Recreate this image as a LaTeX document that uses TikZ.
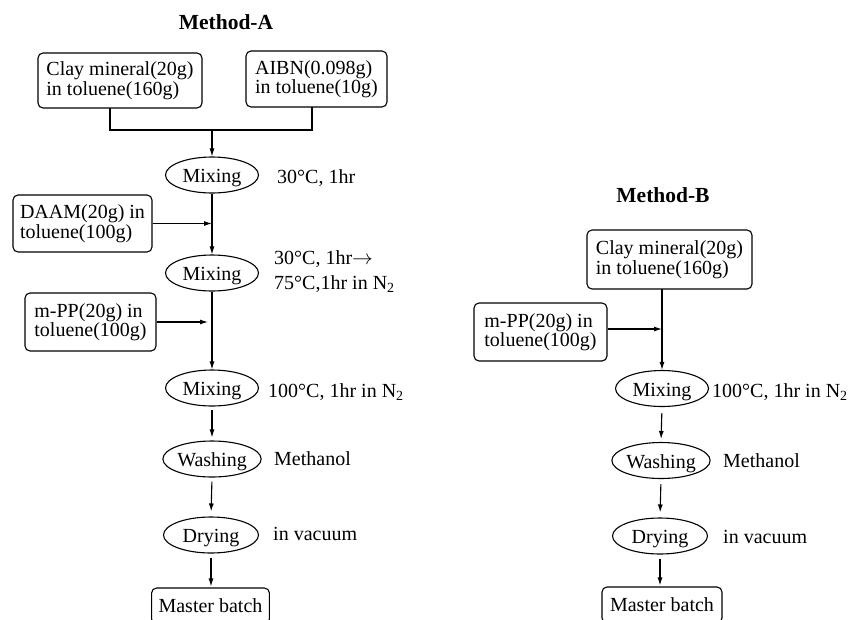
\documentclass[tikz,border=0pt]{standalone}
\usepackage{fontspec}
\setmainfont{Liberation Serif}
\usetikzlibrary{shapes.geometric,arrows.meta}
\tikzset{
  box/.style={draw, rounded corners=5pt, line width=1.1pt, align=left, inner xsep=7pt, inner ysep=0pt, font=\fontsize{20}{19.5}\selectfont},
  oval/.style={draw, ellipse, line width=1.1pt, inner sep=0pt, minimum width=93pt, minimum height=36pt, text height=15pt, text depth=0pt, font=\fontsize{20}{20}\selectfont},
  lbl/.style={anchor=base west, inner sep=0pt, font=\fontsize{20}{20}\selectfont},
  ttl/.style={inner sep=0pt, font=\fontsize{21.5}{21.5}\selectfont\bfseries},
  ln/.style={line width=1.1pt},
  arr/.style={line width=1.1pt, -{Latex[length=8pt,width=5pt]}}
}
\begin{document}
\begin{tikzpicture}[x=1pt,y=-1pt]
\clip (0,0) rectangle (859,619);
% ---------- Method A ----------
\node[ttl] (tA) at (226,22) {Method-A};
\node[box, minimum width=164pt, minimum height=55pt] (a1) at (120,80.5) {Clay mineral(20g)\\in toluene(160g)};
\node[box, minimum width=141pt, minimum height=56pt] (a2) at (316.5,79) {AIBN(0.098g)\\in toluene(10g)};
\coordinate (a1b) at (110,108);
\coordinate (a2b) at (312,107);
\coordinate (ja) at (212,130);
\draw[ln] (a1b) |- (ja) -| (a2b);
\node[oval] (m1) at (212,175) {Mixing};
\draw[arr] (ja) -- (m1.north);
\node[lbl] (l1) at (277,183) {30°C, 1hr};
\node[box, minimum width=139pt, minimum height=57pt] (daam) at (82.5,223.5) {DAAM(20g) in\\toluene(100g)};
\node[oval] (m2) at (212,273) {Mixing};
\coordinate (jd) at (212,223.5);
\draw[arr] (daam.east) -- (jd);
\draw[arr] (m1.south) -- (m2.north);
\node[lbl] (l2a) at (274,264) {30°C, 1hr$\rightarrow$};
\node[lbl] (l2b) at (274,289) {75°C,1hr in N\textsubscript{2}};
\node[box, minimum width=131pt, minimum height=58pt] (mppa) at (90.5,322) {m-PP(20g) in\\toluene(100g)};
\node[oval] (m3) at (212,388) {Mixing};
\coordinate (jm) at (208,322);
\draw[arr] (mppa.east) -- (jm);
\draw[arr] (m2.south) -- (m3.north);
\node[lbl] (l3) at (268,397) {100°C, 1hr in N\textsubscript{2}};
\node[oval] (w1) at (212,459) {Washing};
\draw[arr, shorten <=3pt, shorten >=3pt] (m3.south) -- (w1.north);
\node[lbl] (l4) at (274,465) {Methanol};
\node[oval, minimum width=95pt] (d1) at (211,535) {Drying};
\draw[arr, shorten <=4pt, shorten >=5pt] (w1.south) -- (d1.north);
\node[lbl] (l5) at (273,540) {in vacuum};
\node[box, minimum width=117pt, minimum height=36pt] (mb1) at (210.5,606) {Master batch};
\draw[arr, shorten <=4pt, shorten >=1pt] (d1.south) -- (d1.south |- mb1.north);
% ---------- Method B ----------
\node[ttl] (tB) at (663,195) {Method-B};
\node[box, minimum width=165pt, minimum height=59pt] (b1) at (669.5,259.5) {Clay mineral(20g)\\in toluene(160g)};
\node[oval] (bm) at (662,388.5) {Mixing};
\coordinate (b1b) at (662,289);
\draw[arr] (b1b) -- (bm.north);
\node[box, minimum width=133pt, minimum height=58pt] (mppb) at (540.5,332) {m-PP(20g) in\\toluene(100g)};
\coordinate (jb) at (662,329);
\draw[arr] (mppb.east |- jb) -- (jb);
\node[lbl] (lb1) at (712,397) {100°C, 1hr in N\textsubscript{2}};
\node[oval] (bw) at (661,460.5) {Washing};
\draw[arr, shorten <=6pt, shorten >=3pt] (bm.south) -- (bw.north);
\node[lbl] (lb2) at (723,467) {Methanol};
\node[oval, minimum width=95pt] (bd) at (660,536) {Drying};
\draw[arr, shorten <=5pt, shorten >=5pt] (bw.south) -- (bd.north);
\node[lbl] (lb3) at (723,543) {in vacuum};
\node[box, minimum width=120pt, minimum height=36pt] (mb2) at (662,605) {Master batch};
\draw[arr, shorten <=4pt, shorten >=1pt] (bd.south) -- (bd.south |- mb2.north);
\end{tikzpicture}
\end{document}
